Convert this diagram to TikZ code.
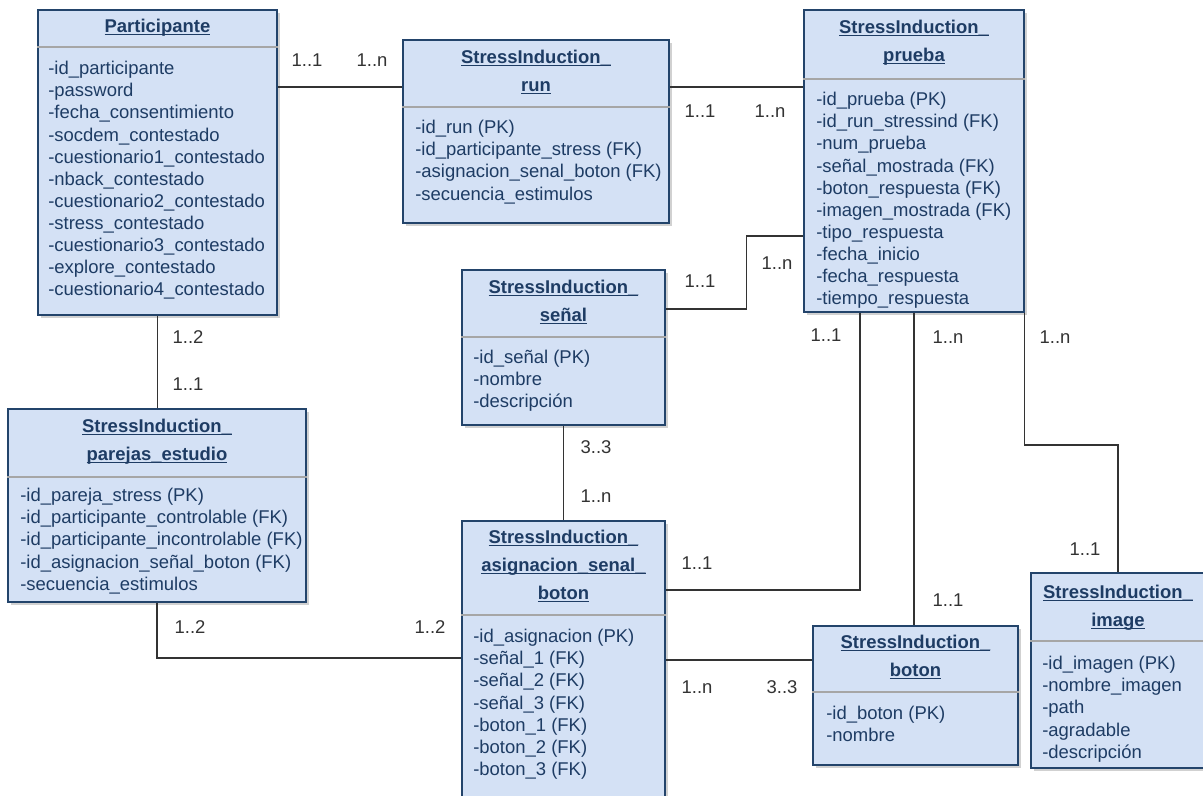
\documentclass[tikz,border=0pt]{standalone}
\usepackage{fontspec}
\setmainfont{Liberation Sans}
\usepackage{tikz}
\usetikzlibrary{fit,shadows}
\definecolor{erFill}{HTML}{D4E1F5}
\definecolor{erEdge}{HTML}{23446B}
\definecolor{erInk}{HTML}{1E3C64}
\definecolor{erRule}{HTML}{A6A6A6}
\definecolor{erLink}{HTML}{333333}
\newcommand\erline[1]{\setbox0\hbox{#1}\rlap{\rule[-2.1pt]{\wd0}{0.9pt}}\box0}
\tikzset{
  er diagram/.style={x=0.75pt, y=-0.75pt,
    font=\fontsize{13.85}{16.6}\selectfont},
  er box/.style={draw=erEdge, fill=erFill, line width=1.2pt, inner sep=0pt,
    drop shadow={shadow xshift=2.5pt, shadow yshift=-2.5pt, fill=black, opacity=0.18}},
  er title/.style={text=erInk, font=\fontsize{13.85}{21}\selectfont\bfseries,
    align=center, inner sep=0pt, anchor=north},
  er attrs/.style={text=erInk, align=left, inner sep=0pt, anchor=north west},
  er divider/.style={draw=erRule, line width=1.2pt},
  er link/.style={draw=erLink, line width=1pt},
  er card/.style={text=erLink, inner sep=0pt}
}
\begin{document}
\begin{tikzpicture}[er diagram]
\useasboundingbox[fill=white] (0,0) rectangle (1203,796);
% entities
\node[er box, fit={(38,10) (277,315)}] (part) {};
\node[er title] at (157.5,19) {\erline{Participante}};
\draw[er divider] (part.west |- 0,47) -- (part.east |- 0,47);
\node[er attrs] at (48,61) {-id\_participante\\-password\\-fecha\_consentimiento\\-socdem\_contestado\\-cuestionario1\_contestado\\-nback\_contestado\\-cuestionario2\_contestado\\-stress\_contestado\\-cuestionario3\_contestado\\-explore\_contestado\\-cuestionario4\_contestado};

\node[er box, fit={(403,40) (669,223)}] (run) {};
\node[er title] at (536,50) {\erline{StressInduction\_}\\\erline{run}};
\draw[er divider] (run.west |- 0,107) -- (run.east |- 0,107);
\node[er attrs] at (415,120) {-id\_run (PK)\\-id\_participante\_stress (FK)\\-asignacion\_senal\_boton (FK)\\-secuencia\_estimulos};

\node[er box, fit={(804,10) (1024,312)}] (prueba) {};
\node[er title] at (914,20) {\erline{StressInduction\_}\\\erline{prueba}};
\draw[er divider] (prueba.west |- 0,79) -- (prueba.east |- 0,79);
\node[er attrs] at (816,92) {-id\_prueba (PK)\\-id\_run\_stressind (FK)\\-num\_prueba\\-señal\_mostrada (FK)\\-boton\_respuesta (FK)\\-imagen\_mostrada (FK)\\-tipo\_respuesta\\-fecha\_inicio\\-fecha\_respuesta\\-tiempo\_respuesta};

\node[er box, fit={(8,409) (306,602)}] (parejas) {};
\node[er title] at (157,419) {\erline{StressInduction\_}\\\erline{parejas\_estudio}};
\draw[er divider] (parejas.west |- 0,477) -- (parejas.east |- 0,477);
\node[er attrs] at (20,488) {-id\_pareja\_stress (PK)\\-id\_participante\_controlable (FK)\\-id\_participante\_incontrolable (FK)\\-id\_asignacion\_señal\_boton (FK)\\-secuencia\_estimulos};

\node[er box, fit={(462,270) (665,425)}] (senal) {};
\node[er title] at (563.5,280) {\erline{StressInduction\_}\\\erline{señal}};
\draw[er divider] (senal.west |- 0,337) -- (senal.east |- 0,337);
\node[er attrs] at (473,350) {-id\_señal (PK)\\-nombre\\-descripción};

\node[er box, fit={(462,521) (665,820)}] (asign) {};
\node[er title] at (563.5,530) {\erline{StressInduction\_}\\\erline{asignacion\_senal\_}\\\erline{boton}};
\draw[er divider] (asign.west |- 0,615) -- (asign.east |- 0,615);
\node[er attrs] at (473,629) {-id\_asignacion (PK)\\-señal\_1 (FK)\\-señal\_2 (FK)\\-señal\_3 (FK)\\-boton\_1 (FK)\\-boton\_2 (FK)\\-boton\_3 (FK)};

\node[er box, fit={(813,626) (1018,765)}] (boton) {};
\node[er title] at (915.5,635) {\erline{StressInduction\_}\\\erline{boton}};
\draw[er divider] (boton.west |- 0,692) -- (boton.east |- 0,692);
\node[er attrs] at (826,706) {-id\_boton (PK)\\-nombre};

\node[er box, fit={(1031,573) (1205,768)}] (image) {};
\node[er title] at (1118,585) {\erline{StressInduction\_}\\\erline{image}};
\draw[er divider] (image.west |- 0,641) -- (image.east |- 0,641);
\node[er attrs] at (1042,656) {-id\_imagen (PK)\\-nombre\_imagen\\-path\\-agradable\\-descripción};

% relations
\draw[er link] (part.east |- 0,87) -- (run.west |- 0,87);
\draw[er link] (run.east |- 0,87) -- (prueba.west |- 0,87);
\draw[er link] (senal.east |- 0,309) -- ++(81,0) |- (prueba.west |- 0,236);
\draw[er link] (part.south) -- (part.south |- parejas.north);
\draw[er link] (senal.south) -- (senal.south |- asign.north);
\draw[er link] (parejas.south) |- (asign.west |- 0,658);
\draw[er link] (prueba.south -| 860,0) |- (asign.east |- 0,590);
\draw[er link] (prueba.south) -- (prueba.south |- boton.north);
\draw[er link] (prueba.south east) |- (image.north |- 0,445) -- (image.north);
\draw[er link] (asign.east |- 0,660) -- (boton.west |- 0,660);

% cardinalities
\node[er card] at (307,60) {1..1};
\node[er card] at (372,60) {1..n};
\node[er card] at (700,111) {1..1};
\node[er card] at (770,111) {1..n};
\node[er card] at (700,281) {1..1};
\node[er card] at (777,263) {1..n};
\node[er card] at (188,337) {1..2};
\node[er card] at (188,384) {1..1};
\node[er card] at (596,447) {3..3};
\node[er card] at (596,496) {1..n};
\node[er card] at (190,627) {1..2};
\node[er card] at (430,627) {1..2};
\node[er card] at (826,335) {1..1};
\node[er card] at (948,337) {1..n};
\node[er card] at (1055,337) {1..n};
\node[er card] at (697,563) {1..1};
\node[er card] at (1085,549) {1..1};
\node[er card] at (948,600) {1..1};
\node[er card] at (697,687) {1..n};
\node[er card] at (782,687) {3..3};
\end{tikzpicture}
\end{document}
